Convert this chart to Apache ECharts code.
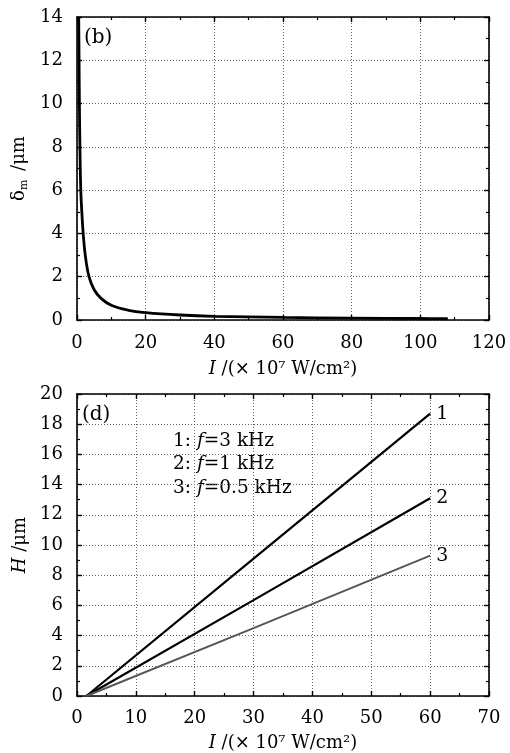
<!DOCTYPE html>
<html>
<head>
<meta charset="utf-8">
<script src="https://cdn.jsdelivr.net/npm/echarts@6/dist/echarts.min.js"></script>
<style>html,body{margin:0;padding:0;background:#fff;}#c{width:510px;height:753px;}</style>
</head>
<body>
<div id="c"></div>
<script>
// Panel (b): delta_m vs I
var bI =     [0.5, 0.6, 0.7, 0.85, 1.1, 1.4, 1.8, 2.4, 3.5, 5,   7,   10,   15,   20,   30,   40,   60,   80,    100,  108];
var bDelta = [14,  12,  10,  8,    6,   5,   4,   3,   2,   1.4, 1.0, 0.68, 0.45, 0.34, 0.23, 0.17, 0.12, 0.09,  0.07, 0.065];

// Panel (d): H vs I for three frequencies
var dI = [1.6, 30, 60];
var dH1 = [0, 9.1, 18.7];
var dH2 = [0, 6.35, 13.1];
var dH3 = [0, 4.5, 9.3];
var dNames = ['1', '2', '3'];
var legendLines = ['1:', '2:', '3:'];
var legendFreq = ['=3 kHz', '=1 kHz', '=0.5 kHz'];

var FONT = 'DejaVu Serif';
var FS = 18;
var chart = echarts.init(document.getElementById('c'));

function pairs(xs, ys){ return xs.map(function(x,i){ return [x, ys[i]]; }); }

function xAx(grid, min, max, interval, pos, main, name, lm, ng){
  return {
    type:'value', gridIndex:grid, min:min, max:max, interval:interval, position:pos,
    axisLine:{show:true, onZero:false, lineStyle:{color:'#000', width:1.6}},
    axisTick:{show:true, inside:true, length:5, lineStyle:{color:'#000', width:1.4}},
    minorTick:{show:true, splitNumber:2, length:3, lineStyle:{color:'#000', width:1.2}},
    axisLabel:{show:main, color:'#000', fontFamily:FONT, fontSize:FS, margin:lm || 13},
    splitLine:{show:main, lineStyle:{type:[1,2], color:'#666', width:1}},
    name: main ? name : '', nameLocation:'middle', nameGap:ng || 40,
    nameTextStyle:{color:'#000', fontFamily:FONT, fontSize:FS,
      rich:{i:{fontStyle:'italic', fontFamily:FONT, fontSize:FS, color:'#000'},
            n:{fontFamily:FONT, fontSize:FS, color:'#000'}}}
  };
}
function yAx(grid, min, max, interval, pos, main, name, gap){
  return {
    type:'value', gridIndex:grid, min:min, max:max, interval:interval, position:pos,
    axisLine:{show:true, onZero:false, lineStyle:{color:'#000', width:1.6}},
    axisTick:{show:true, inside:true, length:5, lineStyle:{color:'#000', width:1.4}},
    minorTick:{show:true, splitNumber:2, length:3, lineStyle:{color:'#000', width:1.2}},
    axisLabel:{show:main, color:'#000', fontFamily:FONT, fontSize:FS, margin:14},
    splitLine:{show:main, lineStyle:{type:[1,2], color:'#666', width:1}},
    name: main ? name : '', nameLocation:'middle', nameGap:gap || 45, nameRotate:90,
    nameTextStyle:{color:'#000', fontFamily:FONT, fontSize:FS,
      rich:{i:{fontStyle:'italic', fontFamily:FONT, fontSize:FS, color:'#000'},
            n:{fontFamily:FONT, fontSize:FS, color:'#000'},
            s:{fontFamily:FONT, fontSize:11, color:'#000', padding:[9,3,0,0]}}}
  };
}

var xName = '{i|I} {n|/(× 10⁷ W/cm²)}';

var option = {
  animation:false,
  backgroundColor:'#fff',
  grid:[
    {left:77, top:17, width:412, height:303},
    {left:77, top:394, width:412, height:304}
  ],
  xAxis:[
    xAx(0, 0, 120, 20, 'bottom', true, xName, 14, 40),
    xAx(0, 0, 120, 20, 'top', false),
    xAx(1, 0, 70, 10, 'bottom', true, xName, 13, 38),
    xAx(1, 0, 70, 10, 'top', false)
  ],
  yAxis:[
    yAx(0, 0, 14, 2, 'left', true, '{n|δ}{s|m}{n| /μm}', 45),
    yAx(0, 0, 14, 2, 'right', false),
    yAx(1, 0, 20, 2, 'left', true, '{i|H}{n| /μm}', 45),
    yAx(1, 0, 20, 2, 'right', false)
  ],
  series:[
    {type:'line', xAxisIndex:0, yAxisIndex:0, data:pairs(bI, bDelta), smooth:0.4,
     showSymbol:false, lineStyle:{color:'#000', width:2.8}, clip:true},
    {type:'line', name:dNames[0], xAxisIndex:2, yAxisIndex:2, data:pairs(dI, dH1), showSymbol:false,
     lineStyle:{color:'#000', width:2.2},
     endLabel:{show:true, formatter:dNames[0], color:'#000', fontFamily:FONT, fontSize:19, distance:6}},
    {type:'line', name:dNames[1], xAxisIndex:2, yAxisIndex:2, data:pairs(dI, dH2), showSymbol:false,
     lineStyle:{color:'#000', width:2.2},
     endLabel:{show:true, formatter:dNames[1], color:'#000', fontFamily:FONT, fontSize:19, distance:6}},
    {type:'line', name:dNames[2], xAxisIndex:2, yAxisIndex:2, data:pairs(dI, dH3), showSymbol:false,
     lineStyle:{color:'#555', width:1.9},
     endLabel:{show:true, formatter:dNames[2], color:'#000', fontFamily:FONT, fontSize:19, distance:6}}
  ],
  graphic:[
    {type:'text', left:84, top:28, style:{text:'(b)', font:'20px "DejaVu Serif"', fill:'#000'}},
    {type:'text', left:82, top:405, style:{text:'(d)', font:'20px "DejaVu Serif"', fill:'#000'}},
    {type:'text', left:173, top:429, style:{
      text: legendLines.map(function(l,i){ return '{n|'+l+' }{i|f}{n|'+legendFreq[i]+'}'; }).join('\n'),
      lineHeight:23.5,
      rich:{
        n:{font:'18.5px "DejaVu Serif"', fill:'#000', lineHeight:23.5},
        i:{font:'italic 18.5px "DejaVu Serif"', fill:'#000', lineHeight:23.5}
      }}}
  ]
};
chart.setOption(option);
</script>
</body>
</html>
